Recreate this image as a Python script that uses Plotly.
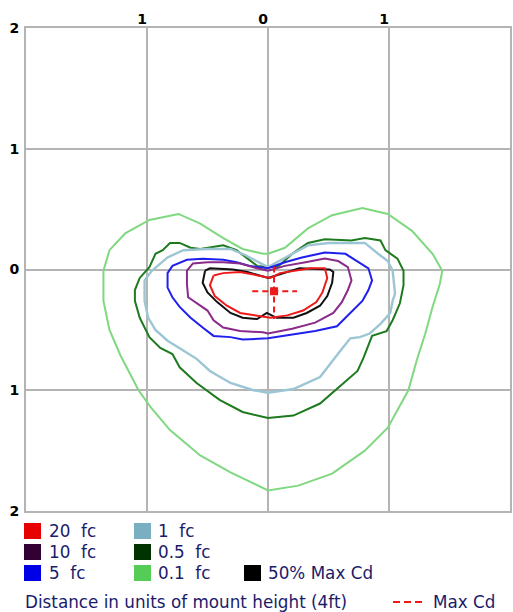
import plotly.graph_objects as go

# ---------------- data (units of mount height) ----------------
fc01_x = [0, -0.04, -0.21, -0.37, -0.56, -0.74, -0.98, -1.18, -1.31, -1.36, -1.36, -1.31, -1.22, -1.07, -0.97, -0.81, -0.56, -0.31, 0, 0.25, 0.53, 0.80, 0.99, 1.16, 1.23, 1.30, 1.36, 1.42, 1.44, 1.36, 1.19, 0.99, 0.78, 0.53, 0.33, 0.14, 0]
fc01_y = [0.13, 0.13, 0.17, 0.26, 0.38, 0.46, 0.41, 0.30, 0.16, -0.01, -0.26, -0.50, -0.71, -1.00, -1.14, -1.33, -1.54, -1.68, -1.83, -1.79, -1.69, -1.50, -1.31, -1.00, -0.75, -0.53, -0.31, -0.12, -0.01, 0.13, 0.32, 0.46, 0.51, 0.45, 0.34, 0.18, 0.13]

fc05_x = [0, -0.09, -0.26, -0.37, -0.56, -0.64, -0.73, -0.81, -0.87, -0.93, -0.98, -1.06, -1.10, -1.10, -1.06, -0.98, -0.89, -0.79, -0.73, -0.59, -0.40, -0.21, 0, 0.21, 0.43, 0.65, 0.74, 0.79, 0.86, 0.98, 1.03, 1.09, 1.12, 1.12, 1.07, 0.97, 0.93, 0.80, 0.69, 0.47, 0.33, 0.20, 0.08, 0]
fc05_y = [0.02, 0.03, 0.16, 0.20, 0.17, 0.18, 0.22, 0.22, 0.16, 0.13, 0.02, -0.07, -0.17, -0.26, -0.40, -0.56, -0.65, -0.70, -0.81, -0.94, -1.08, -1.18, -1.23, -1.21, -1.11, -0.92, -0.84, -0.73, -0.55, -0.51, -0.42, -0.28, -0.13, -0.01, 0.09, 0.16, 0.24, 0.26, 0.24, 0.25, 0.22, 0.13, 0.02, 0.02]

fc1_x = [0, -0.19, -0.31, -0.50, -0.70, -0.83, -0.96, -1.02, -1.02, -0.99, -0.93, -0.83, -0.70, -0.59, -0.48, -0.31, -0.12, 0, 0.21, 0.43, 0.60, 0.68, 0.76, 0.84, 0.93, 1.01, 1.03, 1.05, 1.03, 0.99, 0.91, 0.80, 0.64, 0.50, 0.33, 0.18, 0]
fc1_y = [0.02, 0.12, 0.17, 0.17, 0.16, 0.10, -0.01, -0.09, -0.26, -0.40, -0.50, -0.59, -0.67, -0.74, -0.84, -0.94, -1.00, -1.02, -0.99, -0.89, -0.67, -0.57, -0.56, -0.53, -0.45, -0.36, -0.26, -0.20, -0.01, 0.07, 0.13, 0.22, 0.22, 0.22, 0.20, 0.12, 0.02]

fc5_x = [0, -0.15, -0.26, -0.37, -0.54, -0.67, -0.79, -0.83, -0.83, -0.79, -0.73, -0.64, -0.54, -0.45, -0.31, -0.21, 0, 0.21, 0.39, 0.57, 0.68, 0.78, 0.83, 0.86, 0.83, 0.74, 0.64, 0.47, 0.28, 0.14, 0]
fc5_y = [0.01, 0.03, 0.06, 0.08, 0.09, 0.08, 0.03, -0.03, -0.15, -0.23, -0.31, -0.40, -0.48, -0.55, -0.56, -0.58, -0.57, -0.54, -0.51, -0.47, -0.36, -0.26, -0.17, -0.09, 0.01, 0.07, 0.13, 0.14, 0.10, 0.06, 0.01]

fc10_x = [0, -0.09, -0.23, -0.37, -0.50, -0.62, -0.67, -0.67, -0.66, -0.59, -0.50, -0.45, -0.37, -0.23, -0.04, 0, 0.20, 0.39, 0.54, 0.61, 0.66, 0.69, 0.66, 0.58, 0.47, 0.31, 0.14, 0]
fc10_y = [-0.01, 0.01, 0.05, 0.06, 0.06, 0.05, -0.01, -0.12, -0.23, -0.28, -0.34, -0.42, -0.48, -0.51, -0.52, -0.53, -0.49, -0.44, -0.36, -0.27, -0.17, -0.09, 0.02, 0.07, 0.09, 0.06, 0.03, -0.01]

cd50_x = [-0.52, -0.54, -0.50, -0.42, -0.31, -0.21, -0.09, -0.01, 0.07, 0.21, 0.32, 0.43, 0.49, 0.53, 0.54, 0.51, 0.26, 0.16, 0.06, 0, -0.07, -0.17, -0.29, -0.48, -0.52]
cd50_y = [-0.01, -0.11, -0.19, -0.27, -0.36, -0.40, -0.41, -0.36, -0.40, -0.40, -0.36, -0.30, -0.22, -0.11, -0.02, 0.00, 0.01, -0.02, -0.05, -0.07, -0.05, -0.02, 0.00, 0.01, -0.01]

fc20_x = [-0.45, -0.48, -0.44, -0.34, -0.23, -0.09, 0.02, 0.16, 0.29, 0.40, 0.45, 0.49, 0.47, 0.35, 0.24, 0.10, 0.02, -0.09, -0.23, -0.37, -0.45]
fc20_y = [-0.05, -0.13, -0.22, -0.30, -0.36, -0.38, -0.40, -0.38, -0.34, -0.27, -0.19, -0.07, 0.01, 0.01, -0.01, -0.03, -0.07, -0.05, -0.02, -0.03, -0.05]

maxcd_x = 0.05
maxcd_y = -0.18
maxcd_h = [-0.13, 0.24]
maxcd_v = [0.025, -0.41]

tick_vals = [-2, -1, 0, 1, 2]
x_tick_vals = [-1, 0, 1]
x_tick_text = ["1", "0", "1"]
y_tick_text = ["2", "1", "0", "1", "2"]

legend_labels = ["20\u00a0 fc", "10\u00a0 fc", "5\u00a0 fc", "1\u00a0 fc", "0.5\u00a0 fc", "0.1\u00a0 fc", "50% Max Cd"]
legend_colors = ["#e60000", "#330033", "#0000e6", "#7aafc1", "#003300", "#55cc55", "#000000"]

# ---------------- figure ----------------
W, H = 513, 612
ML, MR, MT, MB = 26, 3, 28, 101

fig = go.Figure()

series = [
    (fc01_x, fc01_y, "#80d880", 2),
    (fc05_x, fc05_y, "#1e7a1e", 2),
    (fc1_x, fc1_y, "#9cc6d4", 2.4),
    (fc5_x, fc5_y, "#2020ee", 2),
    (fc10_x, fc10_y, "#8a2a8a", 2),
    (cd50_x, cd50_y, "#111111", 2),
    (fc20_x, fc20_y, "#ee1a1a", 2),
]
for xs, ys, col, w in series:
    fig.add_trace(go.Scatter(x=xs, y=ys, mode="lines", line=dict(color=col, width=w),
                             showlegend=False, hoverinfo="skip"))

# Max Cd cross
fig.add_trace(go.Scatter(x=maxcd_h, y=[maxcd_y, maxcd_y], mode="lines",
                         line=dict(color="#ee1a1a", width=2, dash="6px,4px"),
                         showlegend=False, hoverinfo="skip"))
fig.add_trace(go.Scatter(x=[maxcd_x, maxcd_x], y=maxcd_v, mode="lines",
                         line=dict(color="#ee1a1a", width=2, dash="6px,4px"),
                         showlegend=False, hoverinfo="skip"))
fig.add_trace(go.Scatter(x=[maxcd_x], y=[maxcd_y], mode="markers",
                         marker=dict(symbol="square", size=8, color="#ee1a1a"),
                         showlegend=False, hoverinfo="skip"))

grid_col = "#b4b4b4"
axis_common = dict(range=[-2, 2], showgrid=True, gridcolor=grid_col, gridwidth=2,
                   zeroline=False, showline=True, linecolor=grid_col, linewidth=2,
                   mirror=True, ticks="", fixedrange=True, automargin=False,
                   tickfont=dict(family="DejaVu Sans", size=14, color="#000000", weight="bold"))

fig.update_layout(
    width=W, height=H,
    margin=dict(l=ML, r=MR, t=MT, b=MB, autoexpand=False),
    paper_bgcolor="white", plot_bgcolor="white",
    xaxis=dict(side="top", tickvals=x_tick_vals, ticktext=x_tick_text,
               ticklabelshift=-5, ticklabelstandoff=-4, **axis_common),
    yaxis=dict(tickvals=tick_vals, ticktext=y_tick_text, ticklabelstandoff=2, **axis_common),
    showlegend=False,
)

# ---------------- custom legend (pixel layout -> paper coords) ----------------
PW = W - ML - MR
PH = H - MT - MB


def px(xp):
    return (xp - ML) / PW


def py(yp):
    return (H - MB - yp) / PH


text_col = "#1b1b6b"
font = dict(family="DejaVu Sans", size=16.8, color=text_col)

cols_swatch = [24, 134, 244]
cols_text = [47, 156, 266]
rows_y = [531, 552, 573]
slots = [(0, 0), (0, 1), (0, 2), (1, 0), (1, 1), (1, 2), (2, 2)]

shapes = []
annotations = []
for (c, r), lab, col in zip(slots, legend_labels, legend_colors):
    x0 = cols_swatch[c]
    yc = rows_y[r]
    shapes.append(dict(type="rect", xref="paper", yref="paper",
                       x0=px(x0), x1=px(x0 + 17), y0=py(yc - 8), y1=py(yc + 8),
                       fillcolor=col, line=dict(width=0)))
    annotations.append(dict(xref="paper", yref="paper", x=px(cols_text[c]), y=py(yc),
                            text=lab, showarrow=False, xanchor="left", yanchor="middle",
                            font=font))

annotations.append(dict(xref="paper", yref="paper", x=px(23), y=py(602),
                        text="Distance in units of mount height (4ft)", showarrow=False,
                        xanchor="left", yanchor="middle", font=font))
shapes.append(dict(type="line", xref="paper", yref="paper", x0=px(393), x1=px(423),
                   y0=py(602), y1=py(602), line=dict(color="#ee1a1a", width=2, dash="7px,4px")))
annotations.append(dict(xref="paper", yref="paper", x=px(431), y=py(602),
                        text="Max Cd", showarrow=False, xanchor="left", yanchor="middle",
                        font=font))

fig.update_layout(shapes=shapes, annotations=annotations)

fig.write_html("out.html", config={"displayModeBar": False},
               post_script="document.body.style.margin='0';document.body.style.overflow='hidden';")
